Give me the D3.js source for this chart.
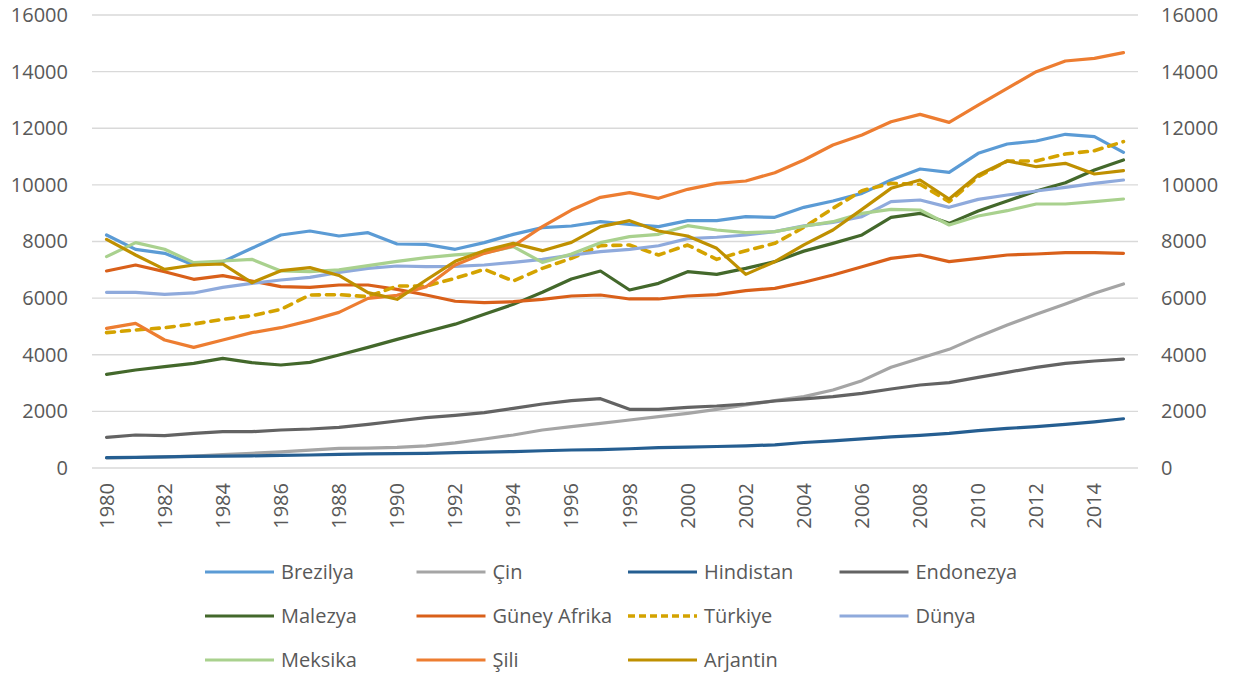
<!DOCTYPE html>
<html>
<head>
<meta charset="utf-8">
<script src="https://cdn.jsdelivr.net/npm/d3@7"></script>
<style>
    body { margin: 0; background: #fff; }
    text { font-family: "Open Sans", sans-serif; fill: #595959; }
</style>
</head>
<body>
<div id="chart"></div>
<script>
const years = d3.range(1980, 2016);
const yTicks = [0, 2000, 4000, 6000, 8000, 10000, 12000, 14000, 16000];

const brezilya = [8230, 7724, 7583, 7170, 7287, 7759, 8230, 8371, 8194, 8312, 7912, 7900, 7724, 7959, 8253, 8488, 8547, 8700, 8607, 8524, 8735, 8735, 8877, 8853, 9207, 9430, 9701, 10172, 10561, 10443, 11115, 11444, 11550, 11786, 11703, 11150];
const cin = [360, 370, 390, 420, 470, 520, 570, 630, 690, 705, 730, 780, 890, 1024, 1165, 1342, 1460, 1578, 1695, 1813, 1931, 2072, 2225, 2378, 2520, 2755, 3085, 3556, 3874, 4191, 4639, 5051, 5427, 5792, 6170, 6499];
const hindistan = [365, 375, 390, 410, 420, 430, 445, 460, 480, 500, 510, 515, 540, 560, 580, 610, 635, 650, 680, 720, 735, 760, 780, 820, 900, 960, 1030, 1100, 1150, 1220, 1320, 1400, 1460, 1540, 1630, 1740];
const endonezya = [1083, 1165, 1141, 1224, 1283, 1283, 1342, 1377, 1436, 1542, 1660, 1778, 1860, 1955, 2107, 2260, 2378, 2449, 2072, 2072, 2143, 2190, 2260, 2366, 2440, 2520, 2637, 2790, 2932, 3014, 3203, 3379, 3556, 3697, 3780, 3845];
const malezya = [3308, 3461, 3579, 3697, 3874, 3720, 3638, 3732, 3991, 4262, 4544, 4815, 5080, 5427, 5780, 6205, 6675, 6958, 6287, 6523, 6935, 6840, 7052, 7288, 7660, 7935, 8230, 8853, 8994, 8641, 9077, 9430, 9783, 10078, 10525, 10878];
const guneyAfrika = [6958, 7170, 6934, 6665, 6793, 6605, 6405, 6382, 6464, 6464, 6311, 6111, 5890, 5840, 5875, 5958, 6075, 6111, 5970, 5970, 6075, 6123, 6264, 6346, 6560, 6817, 7111, 7405, 7523, 7288, 7405, 7523, 7558, 7605, 7605, 7582];
const turkiye = [4780, 4874, 4956, 5086, 5250, 5380, 5604, 6111, 6123, 6052, 6428, 6428, 6700, 7017, 6605, 7052, 7405, 7853, 7876, 7523, 7876, 7370, 7676, 7935, 8500, 9171, 9795, 10055, 10020, 9406, 10290, 10843, 10843, 11090, 11208, 11527];
const dunya = [6205, 6205, 6135, 6182, 6382, 6523, 6640, 6735, 6912, 7052, 7135, 7111, 7120, 7170, 7264, 7370, 7520, 7640, 7720, 7850, 8100, 8150, 8230, 8350, 8550, 8677, 8877, 9406, 9466, 9207, 9489, 9642, 9783, 9913, 10055, 10172];
const meksika = [7464, 7959, 7724, 7253, 7311, 7370, 6958, 6934, 7000, 7150, 7300, 7430, 7530, 7600, 7818, 7264, 7558, 7959, 8170, 8253, 8559, 8406, 8312, 8347, 8540, 8700, 8994, 9135, 9112, 8583, 8900, 9088, 9325, 9325, 9406, 9501];
const sili = [4933, 5110, 4521, 4262, 4521, 4780, 4956, 5204, 5498, 5993, 6100, 6405, 7170, 7582, 7841, 8524, 9112, 9560, 9725, 9525, 9843, 10055, 10137, 10431, 10878, 11408, 11762, 12231, 12491, 12207, 12821, 13410, 13998, 14375, 14469, 14669];
const arjantin = [8077, 7523, 7017, 7170, 7205, 6546, 6970, 7076, 6800, 6193, 5958, 6640, 7300, 7676, 7935, 7676, 7970, 8524, 8735, 8371, 8194, 7759, 6840, 7288, 7880, 8406, 9135, 9878, 10172, 9501, 10349, 10843, 10642, 10760, 10384, 10501];

const seriesNames = ['Brezilya', 'Çin', 'Hindistan', 'Endonezya', 'Malezya', 'Güney Afrika', 'Türkiye', 'Dünya', 'Meksika', 'Şili', 'Arjantin'];
const seriesValues = [brezilya, cin, hindistan, endonezya, malezya, guneyAfrika, turkiye, dunya, meksika, sili, arjantin];
const colors = ['#5B9BD5', '#A5A5A5', '#255E91', '#636363', '#43682B', '#D9601A', '#D4A300', '#8FAADC', '#A9D18E', '#ED7D31', '#BF9000'];
const dashed = ['Türkiye'];

const width = 1236, height = 681;
const margin = { left: 92, right: 1138, top: 15, bottom: 468 };

const svg = d3.select('#chart')
    .append('svg')
    .attr('width', width)
    .attr('height', height);

const x = d3.scalePoint()
    .domain(years)
    .range([margin.left, margin.right])
    .padding(0.5);

const y = d3.scaleLinear()
    .domain([0, 16000])
    .range([margin.bottom, margin.top]);

// gridlines
svg.append('g')
    .selectAll('line')
    .data(yTicks)
    .join('line')
    .attr('x1', margin.left)
    .attr('x2', margin.right)
    .attr('y1', d => y(d))
    .attr('y2', d => y(d))
    .attr('stroke', '#D9D9D9')
    .attr('stroke-width', 1.3);

// left and right axes, no thousands separator
const leftAxis = svg.append('g')
    .attr('transform', `translate(${margin.left - 24},0)`)
    .call(d3.axisLeft(y).tickValues(yTicks).tickFormat(d3.format('d')).tickSize(0).tickPadding(0));
const rightAxis = svg.append('g')
    .attr('transform', `translate(${margin.right + 23},0)`)
    .call(d3.axisRight(y).tickValues(yTicks).tickFormat(d3.format('d')).tickSize(0).tickPadding(0));
[leftAxis, rightAxis].forEach(a => {
    a.select('.domain').remove();
    a.selectAll('text')
        .style('font-size', '20px')
        .style('font-family', '"Open Sans", sans-serif')
        .attr('fill', '#595959');
});

// x axis, every second year, rotated
svg.append('g')
    .selectAll('text')
    .data(years.filter(d => d % 2 === 0))
    .join('text')
    .attr('transform', d => `translate(${x(d)},483) rotate(-90)`)
    .attr('dy', '0.35em')
    .attr('text-anchor', 'end')
    .style('font-size', '20px')
    .text(d => d);

// lines
const line = d3.line()
    .x((d, i) => x(years[i]))
    .y(d => y(d));

svg.append('g')
    .selectAll('path')
    .data(seriesValues)
    .join('path')
    .attr('d', d => line(d))
    .attr('fill', 'none')
    .attr('stroke', (d, i) => colors[i])
    .attr('stroke-width', (d, i) => dashed.includes(seriesNames[i]) ? 3.6 : 3.2)
    .attr('stroke-linejoin', 'round')
    .attr('stroke-linecap', 'round')
    .attr('stroke-dasharray', (d, i) => dashed.includes(seriesNames[i]) ? '8,7' : null);

// legend, 4 columns
const legend = svg.append('g')
    .selectAll('g')
    .data(seriesNames)
    .join('g')
    .attr('transform', (d, i) => `translate(${205 + (i % 4) * 211.5},${572 + Math.floor(i / 4) * 44})`);

legend.append('line')
    .attr('x1', 0)
    .attr('x2', 69)
    .attr('stroke', (d, i) => colors[i])
    .attr('stroke-width', (d) => dashed.includes(d) ? 3.6 : 3.2)
    .attr('stroke-dasharray', d => dashed.includes(d) ? '7,4' : null);

legend.append('text')
    .attr('x', 76)
    .attr('dy', '0.35em')
    .style('font-size', '20px')
    .text(d => d);
</script>
</body>
</html>
